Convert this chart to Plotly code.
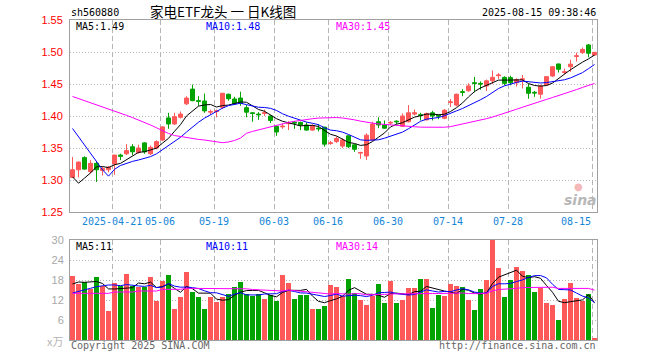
import pandas as pd
import plotly.graph_objects as go

# ---------------- data ----------------
dates = ["2025-04-10", "2025-04-11", "2025-04-14", "2025-04-15", "2025-04-16", "2025-04-17", "2025-04-18",
         "2025-04-21", "2025-04-22", "2025-04-23", "2025-04-24", "2025-04-25", "2025-04-28", "2025-04-29",
         "2025-04-30", "2025-05-06", "2025-05-07", "2025-05-08", "2025-05-09", "2025-05-12", "2025-05-13",
         "2025-05-14", "2025-05-15", "2025-05-16", "2025-05-19", "2025-05-20", "2025-05-21", "2025-05-22",
         "2025-05-23", "2025-05-26", "2025-05-27", "2025-05-28", "2025-05-29", "2025-05-30", "2025-06-03",
         "2025-06-04", "2025-06-05", "2025-06-06", "2025-06-09", "2025-06-10", "2025-06-11", "2025-06-12",
         "2025-06-13", "2025-06-16", "2025-06-17", "2025-06-18", "2025-06-19", "2025-06-20", "2025-06-23",
         "2025-06-24", "2025-06-25", "2025-06-26", "2025-06-27", "2025-06-30", "2025-07-01", "2025-07-02",
         "2025-07-03", "2025-07-04", "2025-07-07", "2025-07-08", "2025-07-09", "2025-07-10", "2025-07-11",
         "2025-07-14", "2025-07-15", "2025-07-16", "2025-07-17", "2025-07-18", "2025-07-21", "2025-07-22",
         "2025-07-23", "2025-07-24", "2025-07-25", "2025-07-28", "2025-07-29", "2025-07-30", "2025-07-31",
         "2025-08-01", "2025-08-04", "2025-08-05", "2025-08-06", "2025-08-07", "2025-08-08", "2025-08-11",
         "2025-08-12", "2025-08-13", "2025-08-14", "2025-08-15"]

opens = [1.304, 1.316, 1.335, 1.313, 1.326, 1.315, 1.316, 1.325, 1.339, 1.341,
         1.352, 1.343, 1.358, 1.341, 1.350, 1.3625, 1.397, 1.3875, 1.398, 1.419,
         1.442, 1.424, 1.4234, 1.406, 1.407, 1.4136, 1.434, 1.4266, 1.428, 1.413,
         1.405, 1.403, 1.404, 1.400, 1.384, 1.383, 1.388, 1.390, 1.390, 1.386,
         1.378, 1.381, 1.3826, 1.357, 1.360, 1.353, 1.369, 1.355, 1.342, 1.3375,
         1.3625, 1.391, 1.386, 1.389, 1.392, 1.384, 1.391, 1.403, 1.402, 1.394,
         1.405, 1.401, 1.3965, 1.421, 1.417, 1.438, 1.4395, 1.452, 1.451, 1.447,
         1.455, 1.463, 1.4604, 1.460, 1.452, 1.457, 1.445, 1.437, 1.434, 1.4485,
         1.4625, 1.4813, 1.468, 1.477, 1.493, 1.499, 1.511, 1.4953]
highs = [1.336, 1.329, 1.337, 1.331, 1.328, 1.321, 1.322, 1.339, 1.341, 1.356,
         1.356, 1.355, 1.359, 1.354, 1.362, 1.384, 1.405, 1.405, 1.407, 1.431,
         1.449, 1.431, 1.435, 1.410, 1.410, 1.436, 1.435, 1.430, 1.438, 1.417,
         1.406, 1.406, 1.410, 1.401, 1.385, 1.388, 1.392, 1.392, 1.391, 1.390,
         1.387, 1.387, 1.383, 1.361, 1.368, 1.365, 1.370, 1.356, 1.344, 1.373,
         1.391, 1.398, 1.393, 1.392, 1.393, 1.404, 1.417, 1.410, 1.405, 1.405,
         1.408, 1.402, 1.411, 1.4265, 1.435, 1.442, 1.451, 1.461, 1.454, 1.457,
         1.471, 1.467, 1.462, 1.463, 1.459, 1.464, 1.450, 1.439, 1.449, 1.4625,
         1.478, 1.482, 1.474, 1.488, 1.499, 1.507, 1.5125, 1.500]
lows = [1.304, 1.304, 1.316, 1.310, 1.297, 1.307, 1.312, 1.308, 1.331, 1.339,
        1.339, 1.341, 1.341, 1.339, 1.348, 1.361, 1.380, 1.386, 1.396, 1.417,
        1.423, 1.416, 1.405, 1.402, 1.398, 1.411, 1.424, 1.418, 1.416, 1.398,
        1.391, 1.394, 1.400, 1.389, 1.369, 1.380, 1.378, 1.380, 1.378, 1.377,
        1.377, 1.376, 1.352, 1.355, 1.358, 1.350, 1.350, 1.344, 1.333, 1.3313,
        1.361, 1.381, 1.380, 1.386, 1.387, 1.383, 1.390, 1.401, 1.393, 1.393,
        1.393, 1.395, 1.395, 1.414, 1.415, 1.431, 1.438, 1.437, 1.441, 1.439,
        1.450, 1.458, 1.448, 1.448, 1.446, 1.443, 1.427, 1.430, 1.427, 1.447,
        1.461, 1.468, 1.465, 1.469, 1.485, 1.497, 1.4917, 1.494]
closes = [1.316, 1.328, 1.317, 1.326, 1.316, 1.318, 1.320, 1.339, 1.337, 1.346,
          1.344, 1.350, 1.344, 1.351, 1.360, 1.383, 1.3875, 1.399, 1.403, 1.428,
          1.424, 1.423, 1.408, 1.407, 1.408, 1.4355, 1.427, 1.419, 1.420, 1.406,
          1.404, 1.402, 1.405, 1.393, 1.375, 1.384, 1.389, 1.389, 1.386, 1.378,
          1.385, 1.380, 1.356, 1.358, 1.365, 1.3625, 1.352, 1.348, 1.343, 1.370,
          1.3875, 1.386, 1.381, 1.390, 1.391, 1.400, 1.405, 1.405, 1.401, 1.404,
          1.400, 1.400, 1.409, 1.422, 1.434, 1.437, 1.447, 1.451, 1.450, 1.455,
          1.4604, 1.464, 1.451, 1.452, 1.457, 1.458, 1.4355, 1.436, 1.447, 1.4615,
          1.477, 1.473, 1.469, 1.481, 1.494, 1.504, 1.498, 1.4995]
# colour of each day as drawn (red = up, green = down)
is_up = [1, 1, 0, 1, 0, 1, 1, 1, 0, 1, 0, 1, 0, 1, 1, 1, 0, 1, 1, 1,
         0, 0, 0, 1, 1, 1, 0, 0, 0, 0, 0, 0, 1, 0, 0, 1, 1, 0, 0, 0,
         1, 0, 0, 1, 1, 1, 0, 0, 1, 1, 1, 0, 0, 1, 0, 1, 1, 1, 0, 1,
         0, 0, 1, 1, 1, 0, 1, 0, 0, 1, 1, 1, 0, 0, 1, 1, 0, 0, 1, 1,
         1, 0, 1, 1, 1, 1, 0, 1]
volumes = [19.3, 16.9, 17.4, 15.4, 18.8, 16.3, 8.8, 17.2, 16.3, 19.9,
           16.3, 15.8, 16.0, 18.8, 11.8, 17.8, 19.6, 9.4, 13.0, 20.5,
           14.4, 13.0, 9.4, 13.0, 11.5, 12.8, 13.9, 16.0, 17.5, 13.9,
           13.1, 13.9, 12.4, 13.6, 11.8, 19.6, 17.2, 12.4, 13.4, 13.4,
           9.4, 9.4, 10.3, 16.6, 16.0, 13.3, 18.4, 14.2, 12.1, 10.6,
           13.3, 16.9, 11.2, 17.8, 11.2, 12.1, 15.7, 15.7, 18.4, 18.4,
           9.7, 13.6, 13.3, 16.9, 16.3, 16.0, 12.1, 9.1, 15.4, 18.1,
           29.9, 21.7, 13.0, 18.1, 22.0, 20.8, 19.6, 14.5, 15.7, 11.2,
           10.6, 6.1, 12.4, 17.2, 12.7, 11.8, 13.9, 0.4]

# moving-average values for the first days (their history lies before the window)
ma5_head = [1.305, 1.295, 1.303, 1.311]
ma10_head = [1.3805, 1.3673, 1.3544, 1.3413, 1.328, 1.316, 1.306, 1.3167, 1.3227]
ma30_head = [1.4305, 1.4273, 1.4242, 1.4211, 1.418, 1.4145, 1.4117, 1.408, 1.4045, 1.401,
             1.3975, 1.394, 1.3906, 1.386, 1.3816, 1.377, 1.3727, 1.3695, 1.3678, 1.366,
             1.3644, 1.3634, 1.3625, 1.361, 1.3594, 1.3583, 1.3594, 1.3617, 1.3656]
vma5_head = [16.8, 17.4, 17.3, 17.4]
vma10_head = [14.1, 14.5, 15.0, 15.5, 16.0, 16.3, 16.5, 16.5, 16.3]
vma30_head = [14.0, 14.0, 14.0, 14.0, 14.0, 14.0, 14.0, 14.4, 14.4, 14.4,
              14.4, 14.7, 14.7, 14.7, 14.7, 15.2, 15.2, 15.2, 15.2, 15.5,
              15.5, 15.5, 15.5, 15.5, 15.5, 15.5, 15.5, 15.5, 15.5]

label_dates = ["2025-04-21", "2025-05-06", "2025-05-19", "2025-06-03", "2025-06-16",
               "2025-06-30", "2025-07-14", "2025-07-28", "2025-08-15"]
label_texts = ["2025-04-21", "05-06", "05-19", "06-03", "06-16", "06-30", "07-14", "07-28", "08-15"]
price_ticks = [1.25, 1.30, 1.35, 1.40, 1.45, 1.50, 1.55]
vol_ticks = [6, 12, 18, 24, 30]

symbol = "sh560880"
title = "家电ETF龙头 一 日K线图"
stamp = "2025-08-15 09:38:46"
ma_price_labels = ["MA5:1.49", "MA10:1.48", "MA30:1.45"]
ma_vol_labels = ["MA5:11", "MA10:11", "MA30:14"]

# ---------------- styling ----------------
W, H = 660, 360
RED, GREEN = "#ff5858", "#00a300"
MA_COLORS = ["#000000", "#0000ff", "#ff00ff"]
GRID = "#b4b4b4"
FRAME = "#a0a0a0"
MONO = "DejaVu Sans Mono"
SANS = "Liberation Sans"

def px(x):
    return x / W

def py(y):
    return 1 - y / H

def with_head(values, n, head):
    r = pd.Series(values).rolling(n).mean().tolist()
    return list(head) + r[len(head):]

idx = list(range(len(dates)))
half = 5 / 12  # half candle width in index units
grid_x = [dates.index(d) - half for d in label_dates]

ma_price = [with_head(closes, 5, ma5_head), with_head(closes, 10, ma10_head), with_head(closes, 30, ma30_head)]
ma_vol = [with_head(volumes, 5, vma5_head), with_head(volumes, 10, vma10_head), with_head(volumes, 30, vma30_head)]

fig = go.Figure()

fig.add_trace(go.Candlestick(
    x=idx, open=opens, high=highs, low=lows, close=closes,
    increasing=dict(line=dict(color=RED, width=1), fillcolor=RED),
    decreasing=dict(line=dict(color=GREEN, width=1), fillcolor=GREEN),
    whiskerwidth=0, xaxis="x", yaxis="y", hoverinfo="skip", showlegend=False))

for ma, c in zip(ma_price, MA_COLORS):
    fig.add_trace(go.Scatter(x=idx, y=ma, mode="lines", line=dict(color=c, width=1),
                             xaxis="x", yaxis="y", hoverinfo="skip", showlegend=False))

fig.add_trace(go.Bar(x=idx, y=volumes, width=5 / 6,
                     marker=dict(color=[RED if u else GREEN for u in is_up], line=dict(width=0)),
                     xaxis="x2", yaxis="y2", hoverinfo="skip", showlegend=False))

for ma, c in zip(ma_vol, MA_COLORS):
    fig.add_trace(go.Scatter(x=idx, y=ma, mode="lines", line=dict(color=c, width=1),
                             xaxis="x2", yaxis="y2", hoverinfo="skip", showlegend=False))

xrange = [-half, len(dates) - 1 + half]
xcommon = dict(range=xrange, domain=[px(70), px(597)], tickvals=grid_x, showticklabels=False,
               showgrid=True, gridcolor=GRID, griddash="5px,3px", gridwidth=1, ticks="",
               showline=True, linecolor=FRAME, linewidth=1, mirror=True, zeroline=False,
               fixedrange=True, automargin=False)

fig.update_layout(
    width=W, height=H, autosize=False, margin=dict(l=0, r=0, t=0, b=0, pad=0),
    paper_bgcolor="white", plot_bgcolor="white",
    boxgap=1 / 3, boxgroupgap=0, bargap=0,
    xaxis=dict(**xcommon, anchor="y", rangeslider=dict(visible=False)),
    xaxis2=dict(**xcommon, anchor="y2"),
    yaxis=dict(domain=[py(212), py(20)], range=[price_ticks[0], price_ticks[-1]], tickvals=price_ticks,
               tickformat=".2f", tickfont=dict(family=SANS, size=11, color="#ff0000"),
               showgrid=True, gridcolor=GRID, griddash="1px,2px", ticks="", ticklabelstandoff=4,
               showline=True, linecolor=FRAME, linewidth=1, mirror=True, zeroline=False,
               fixedrange=True, automargin=False),
    yaxis2=dict(domain=[py(340), py(240)], range=[0, 30], tickvals=vol_ticks,
                tickfont=dict(family=SANS, size=11, color="#a8a8a8"),
                showgrid=True, gridcolor=GRID, griddash="1px,2px", ticks="", ticklabelstandoff=3,
                showline=True, linecolor=FRAME, linewidth=1, mirror=True, zeroline=False,
                fixedrange=True, automargin=False),
)

ann = []
# header
ann.append(dict(x=px(70), y=py(13), text=symbol, xanchor="left", font=dict(family=MONO, size=10, color="#000")))
ann.append(dict(x=px(223), y=py(11), text=title, xanchor="center",
                font=dict(family="Noto Sans CJK SC", size=13.5, color="#000")))
ann.append(dict(x=px(597), y=py(13), text=stamp, xanchor="right", font=dict(family=MONO, size=10, color="#000")))
# MA legends
for t, c, x0 in zip(ma_price_labels, MA_COLORS, [75, 205, 335]):
    ann.append(dict(x=px(x0), y=py(26.5), text=t, xanchor="left", font=dict(family=MONO, size=10, color=c)))
for t, c, x0 in zip(ma_vol_labels, MA_COLORS, [75, 205, 335]):
    ann.append(dict(x=px(x0), y=py(246.7), text=t, xanchor="left", font=dict(family=MONO, size=10, color=c)))
# date labels
for d, t in zip(label_dates, label_texts):
    last = d == label_dates[-1]
    ann.append(dict(x=dates.index(d) - half, xref="x", y=py(221.5), text=t,
                    xanchor="right" if last else "center",
                    font=dict(family=MONO, size=10, color="#1586d8")))
# volume unit and footer
ann.append(dict(x=px(64), y=py(340.5), text="x万", xanchor="right",
                font=dict(family="Noto Sans CJK SC", size=11, color="#b4b4b4")))
ann.append(dict(x=px(70), y=py(345.5), text="Copyright 2025 SINA.COM", xanchor="left",
                font=dict(family=MONO, size=10, color="#666")))
ann.append(dict(x=px(597), y=py(345.5), text="http://finance.sina.com.cn", xanchor="right",
                font=dict(family=MONO, size=10, color="#666")))
# watermark
ann.append(dict(x=px(578), y=py(186), text="●", xanchor="center",
                font=dict(family="DejaVu Sans", size=10, color="#f5b8b8")))
ann.append(dict(x=px(598), y=py(200), text="<b><i>sina</i></b>", xanchor="right",
                font=dict(family="DejaVu Sans", size=14, color="#b8b8b8")))

for a in ann:
    a.setdefault("xref", "paper")
    a.setdefault("yref", "paper")
    a.setdefault("yanchor", "middle")
    a["showarrow"] = False
    a["borderpad"] = 0
fig.update_layout(annotations=ann)

fig.write_html("out.html", config={"displayModeBar": False},
               post_script="document.body.style.margin='0';document.body.style.overflow='hidden';")
